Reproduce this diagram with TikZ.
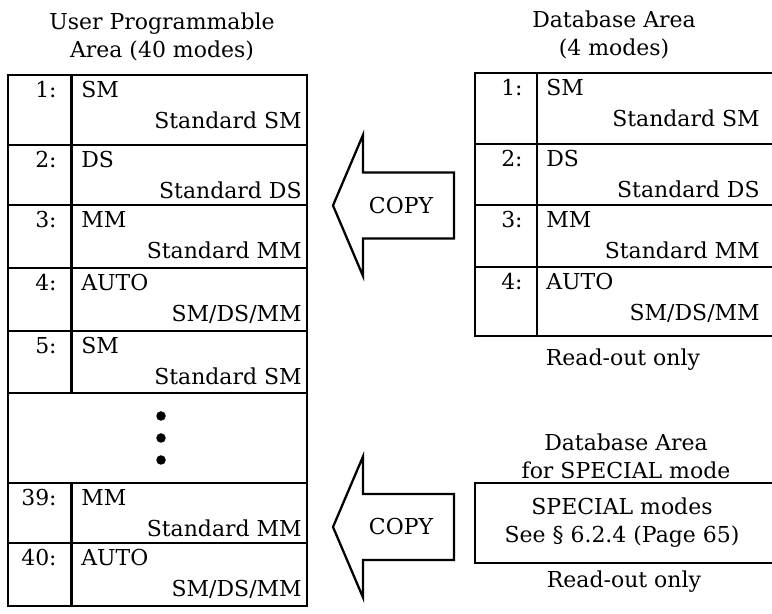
\documentclass[tikz,border=0pt]{standalone}
\usepackage{fontspec}
\setmainfont{DejaVu Serif}

\begin{document}
\begin{tikzpicture}[font=\fontsize{12.5}{16}\selectfont]
  \tikzset{
    tableline/.style={draw=black,line width=1.3pt},
    copyarrow/.style={draw=black,line width=1.3pt,line join=miter},
    numtext/.style={anchor=base east,inner sep=0pt},
    modetext/.style={anchor=base west,inner sep=0pt},
    subtext/.style={anchor=base east,inner sep=0pt},
    headtext/.style={align=center,inner sep=0pt},
    notetext/.style={anchor=base,inner sep=0pt},
    dotmark/.style={circle,fill=black,minimum size=0.19cm,inner sep=0pt}
  }

  \useasboundingbox[fill=white] (0,0) rectangle (15.44,-12.28);

  % ---------------- User programmable area (40 modes) ----------------
  \node[headtext] (uTitle) at (3.24,-0.74) {User Programmable\\Area (40 modes)};
  \draw[tableline] (0.16,-1.50) rectangle (6.14,-12.12);
  \draw[tableline] (1.43,-1.50) -- (1.43,-7.86);
  \draw[tableline] (1.43,-9.66) -- (1.43,-12.12);
  \foreach \y in {-2.90,-4.10,-5.36,-6.62,-7.86,-9.66,-10.86}
    \draw[tableline] (0.16,\y) -- (6.14,\y);

  \node[numtext]  (uNum1)  at (1.14,-1.95) {1:};
  \node[modetext] (uMode1) at (1.62,-1.95) {SM};
  \node[subtext]  (uSub1)  at (6.04,-2.57) {Standard SM};

  \node[numtext]  (uNum2)  at (1.14,-3.35) {2:};
  \node[modetext] (uMode2) at (1.62,-3.35) {DS};
  \node[subtext]  (uSub2)  at (6.04,-3.97) {Standard DS};

  \node[numtext]  (uNum3)  at (1.14,-4.55) {3:};
  \node[modetext] (uMode3) at (1.62,-4.55) {MM};
  \node[subtext]  (uSub3)  at (6.04,-5.17) {Standard MM};

  \node[numtext]  (uNum4)  at (1.14,-5.81) {4:};
  \node[modetext] (uMode4) at (1.62,-5.81) {AUTO};
  \node[subtext]  (uSub4)  at (6.04,-6.43) {SM/DS/MM};

  \node[numtext]  (uNum5)  at (1.14,-7.07) {5:};
  \node[modetext] (uMode5) at (1.62,-7.07) {SM};
  \node[subtext]  (uSub5)  at (6.04,-7.69) {Standard SM};

  % skipped modes
  \node[dotmark] (uDotA) at (3.22,-8.32) {};
  \node[dotmark] (uDotB) at (3.22,-8.76) {};
  \node[dotmark] (uDotC) at (3.22,-9.20) {};

  \node[numtext]  (uNum39)  at (1.14,-10.11) {39:};
  \node[modetext] (uMode39) at (1.62,-10.11) {MM};
  \node[subtext]  (uSub39)  at (6.04,-10.73) {Standard MM};

  \node[numtext]  (uNum40)  at (1.14,-11.31) {40:};
  \node[modetext] (uMode40) at (1.62,-11.31) {AUTO};
  \node[subtext]  (uSub40)  at (6.04,-11.93) {SM/DS/MM};

  % ---------------- Database area (4 modes) ----------------
  \node[headtext] (dTitle) at (12.28,-0.69) {Database Area\\(4 modes)};
  \draw[tableline] (9.50,-1.46) rectangle (15.48,-6.72);
  \draw[tableline] (10.74,-1.46) -- (10.74,-6.72);
  \foreach \y in {-2.88,-4.10,-5.34}
    \draw[tableline] (9.50,\y) -- (15.48,\y);

  \node[numtext]  (dNum1)  at (10.46,-1.91) {1:};
  \node[modetext] (dMode1) at (10.92,-1.91) {SM};
  \node[subtext]  (dSub1)  at (15.20,-2.53) {Standard SM};

  \node[numtext]  (dNum2)  at (10.46,-3.33) {2:};
  \node[modetext] (dMode2) at (10.92,-3.33) {DS};
  \node[subtext]  (dSub2)  at (15.20,-3.95) {Standard DS};

  \node[numtext]  (dNum3)  at (10.46,-4.55) {3:};
  \node[modetext] (dMode3) at (10.92,-4.55) {MM};
  \node[subtext]  (dSub3)  at (15.20,-5.17) {Standard MM};

  \node[numtext]  (dNum4)  at (10.46,-5.79) {4:};
  \node[modetext] (dMode4) at (10.92,-5.79) {AUTO};
  \node[subtext]  (dSub4)  at (15.20,-6.41) {SM/DS/MM};

  \node[notetext] (dRead) at (12.46,-7.31) {Read-out only};

  % ---------------- Database area for SPECIAL mode ----------------
  \node[headtext] (sTitle) at (12.52,-9.12) {Database Area\\for SPECIAL mode};
  \draw[tableline] (9.50,-9.66) rectangle (15.48,-11.26);
  \node[headtext] (sText) at (12.44,-10.46) {SPECIAL modes\\See \S\ 6.2.4 (Page 65)};
  \node[notetext] (sRead) at (12.48,-11.75) {Read-out only};

  % ---------------- Copy arrows ----------------
  \begin{scope}[shift={(0,-4.11)}]
    \draw[copyarrow] (9.08,0.66) -- (7.26,0.66) -- (7.26,1.41) -- (6.66,0)
      -- (7.26,-1.41) -- (7.26,-0.66) -- (9.08,-0.66) -- cycle;
    \node (copyA) at (8.02,0) {COPY};
  \end{scope}

  \begin{scope}[shift={(0,-10.54)}]
    \draw[copyarrow] (9.08,0.66) -- (7.26,0.66) -- (7.26,1.41) -- (6.66,0)
      -- (7.26,-1.41) -- (7.26,-0.66) -- (9.08,-0.66) -- cycle;
    \node (copyB) at (8.02,0) {COPY};
  \end{scope}
\end{tikzpicture}
\end{document}
